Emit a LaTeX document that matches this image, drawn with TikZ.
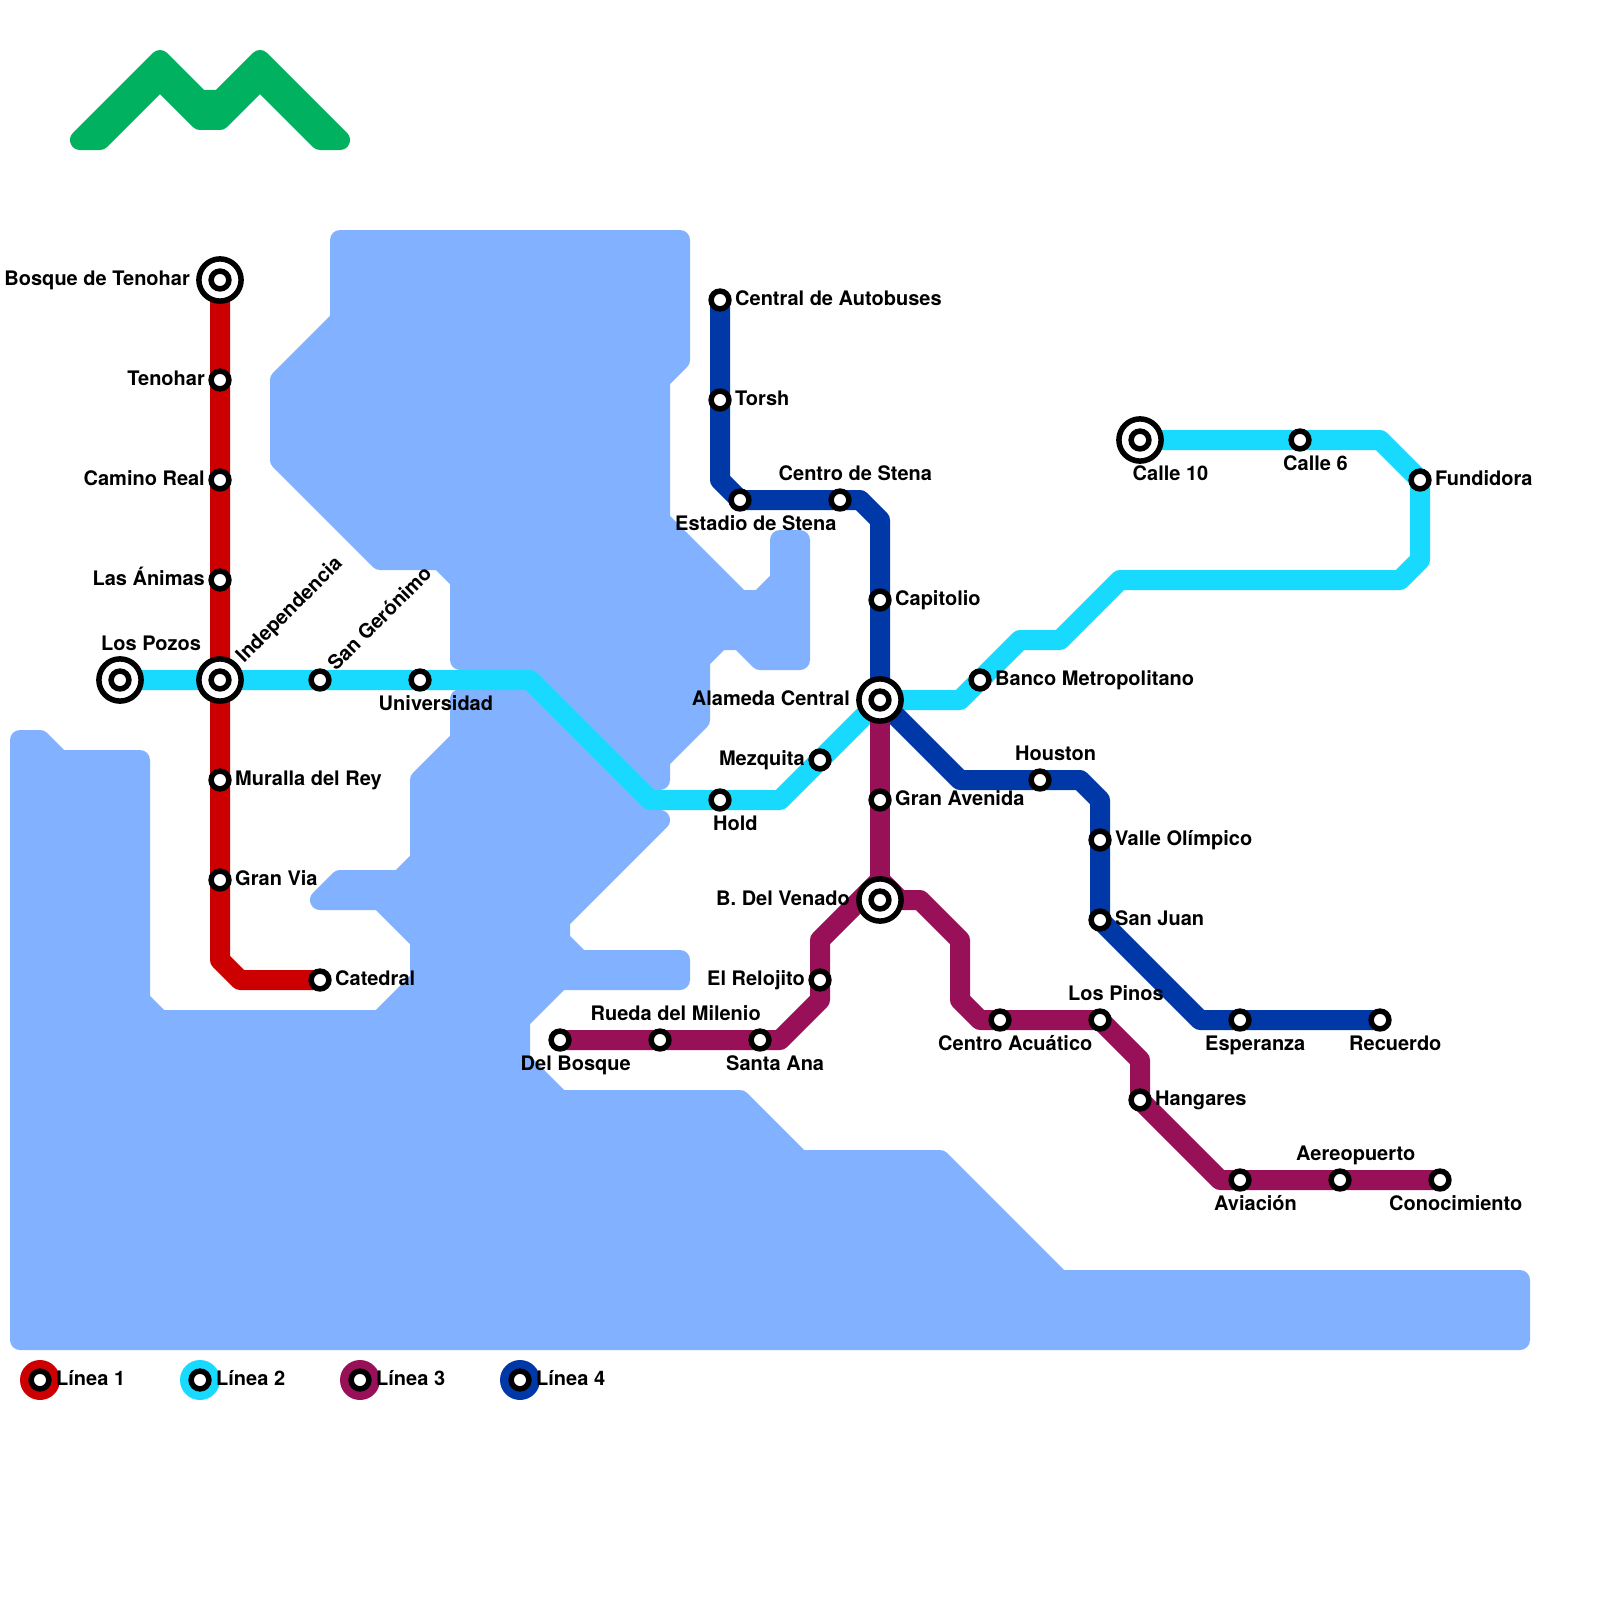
\documentclass[tikz,border=0pt]{standalone}
\usepackage{fontspec}
\setmainfont{TeX Gyre Heros}
\definecolor{water}{RGB}{130,178,255}
\definecolor{redline}{RGB}{204,0,0}
\definecolor{cyanline}{RGB}{24,218,255}
\definecolor{purpleline}{RGB}{152,17,88}
\definecolor{blueline}{RGB}{0,56,168}
\definecolor{logogreen}{RGB}{0,177,96}
\pgfdeclarelayer{sea}
\pgfdeclarelayer{tracks}
\pgfsetlayers{sea,tracks,main}
\tikzset{
  waterbody/.style={fill=water,draw=water,line width=20pt,line join=round},
  logoshape/.style={fill=logogreen,draw=logogreen,line width=20pt,line join=round},
  track/.style={line width=20pt,line join=round,line cap=butt},
  stn/.style={circle,draw=black,fill=white,line width=5.5pt,minimum size=17.8pt,inner sep=0pt},
  hub/.style={circle,draw=black,fill=white,line width=5.5pt,minimum size=42.2pt,inner sep=0pt},
  keydisc/.style={circle,minimum size=40pt,inner sep=0pt},
  lab/.style={inner sep=0pt,font=\fontsize{20}{24}\selectfont\bfseries},
  labl/.style={lab,anchor=base west},
  labr/.style={lab,anchor=base east},
  labd/.style={lab,anchor=base west,rotate=45},
}
\begin{document}
\begin{tikzpicture}[x=1pt,y=-1pt]
\useasboundingbox (0,0) rectangle (1600,1600);
\begin{pgfonlayer}{sea}
\fill[white] (0,0) rectangle (1600,1600);
\draw[waterbody] (340,240)--(680,240)--(680,360)--(660,380)--(660,520)--(740,600)--(760,600)--(780,580)--(780,540)--(800,540)--(800,660)--(760,660)--(740,640)--(720,640)--(700,660)--(700,720)--(660,760)--(660,780)--(640,780)--(520,660)--(460,660)--(460,580)--(440,560)--(380,560)--(280,460)--(280,380)--(340,320)--cycle;
\draw[waterbody] (460,699)--(530,699)--(650,820)--(660,820)--(560,920)--(560,940)--(580,960)--(680,960)--(680,980)--(560,980)--(520,1020)--(520,1060)--(560,1100)--(740,1100)--(800,1160)--(940,1160)--(1060,1280)--(1520,1280)--(1520,1340)--(20,1340)--(20,740)--(40,740)--(60,760)--(140,760)--(140,1000)--(160,1020)--(380,1020)--(420,980)--(420,940)--(380,900)--(320,900)--(340,880)--(400,880)--(420,860)--(420,780)--(460,740)--cycle;
\draw[logoshape] (80,140)--(160,60)--(200,100)--(220,100)--(260,60)--(340,140)--(320,140)--(260,80)--(220,120)--(200,120)--(160,80)--(100,140)--cycle;
\end{pgfonlayer}

% stations
\node[hub] (bosqueH) at (220,280) {}; \node[stn] (bosque) at (220,280) {};
\node[stn] (tenohar) at (220,380) {};
\node[stn] (camino) at (220,480) {};
\node[stn] (animas) at (220,580) {};
\node[hub] (indepH) at (220,680) {}; \node[stn] (indep) at (220,680) {};
\node[stn] (muralla) at (220,780) {};
\node[stn] (granvia) at (220,880) {};
\node[stn] (catedral) at (320,980) {};
\node[hub] (pozosH) at (120,680) {}; \node[stn] (pozos) at (120,680) {};
\node[stn] (sanger) at (320,680) {};
\node[stn] (univ) at (420,680) {};
\node[stn] (hold) at (720,800) {};
\node[stn] (mezquita) at (820,760) {};
\node[hub] (alamedaH) at (880,700) {}; \node[stn] (alameda) at (880,700) {};
\node[stn] (banco) at (980,680) {};
\node[stn] (fundidora) at (1420,480) {};
\node[stn] (calle6) at (1300,440) {};
\node[hub] (calle10H) at (1140,440) {}; \node[stn] (calle10) at (1140,440) {};
\node[stn] (delbosque) at (560,1040) {};
\node[stn] (rueda) at (660,1040) {};
\node[stn] (santaana) at (760,1040) {};
\node[stn] (relojito) at (820,980) {};
\node[hub] (venadoH) at (880,900) {}; \node[stn] (venado) at (880,900) {};
\node[stn] (granav) at (880,800) {};
\node[stn] (acuatico) at (1000,1020) {};
\node[stn] (pinos) at (1100,1020) {};
\node[stn] (hangares) at (1140,1100) {};
\node[stn] (aviacion) at (1240,1180) {};
\node[stn] (aereo) at (1340,1180) {};
\node[stn] (conoc) at (1440,1180) {};
\node[stn] (central) at (720,300) {};
\node[stn] (torsh) at (720,400) {};
\node[stn] (estadio) at (740,500) {};
\node[stn] (cstena) at (840,500) {};
\node[stn] (capitolio) at (880,600) {};
\node[stn] (houston) at (1040,780) {};
\node[stn] (valle) at (1100,840) {};
\node[stn] (sanjuan) at (1100,920) {};
\node[stn] (esperanza) at (1240,1020) {};
\node[stn] (recuerdo) at (1380,1020) {};

% bends
\coordinate (r1) at (220,960); \coordinate (r2) at (240,980);
\coordinate (c1) at (530,680); \coordinate (c2) at (650,800); \coordinate (c3) at (780,800);
\coordinate (c4) at (960,700); \coordinate (c5) at (1020,640); \coordinate (c6) at (1060,640);
\coordinate (c7) at (1120,580); \coordinate (c8) at (1400,580); \coordinate (c9) at (1420,560);
\coordinate (c10) at (1380,440);
\coordinate (p1) at (780,1040); \coordinate (p2) at (820,1000); \coordinate (p3) at (820,940);
\coordinate (p4) at (880,880); \coordinate (p5) at (900,900); \coordinate (p6) at (920,900);
\coordinate (p7) at (960,940); \coordinate (p8) at (960,1000); \coordinate (p9) at (980,1020);
\coordinate (p10) at (1140,1060); \coordinate (p11) at (1220,1180);
\coordinate (b1) at (720,480); \coordinate (b2) at (860,500); \coordinate (b3) at (880,520);
\coordinate (b4) at (960,780); \coordinate (b5) at (1080,780); \coordinate (b6) at (1100,800);
\coordinate (b7) at (1200,1020);

\begin{pgfonlayer}{tracks}
\draw[track,redline] (bosque.center)--(tenohar.center)--(camino.center)--(animas.center)--(indep.center)--(muralla.center)--(granvia.center)--(r1)--(r2)--(catedral.center);
\draw[track,cyanline] (pozos.center)--(indep.center)--(sanger.center)--(univ.center)--(c1)--(c2)--(hold.center)--(c3)--(mezquita.center)--(alameda.center)--(c4)--(banco.center)--(c5)--(c6)--(c7)--(c8)--(c9)--(fundidora.center)--(c10)--(calle6.center)--(calle10.center);
\draw[track,blueline] (central.center)--(torsh.center)--(b1)--(estadio.center)--(cstena.center)--(b2)--(b3)--(capitolio.center)--(alameda.center)--(b4)--(houston.center)--(b5)--(b6)--(valle.center)--(sanjuan.center)--(b7)--(esperanza.center)--(recuerdo.center);
\draw[track,purpleline] (delbosque.center)--(rueda.center)--(santaana.center)--(p1)--(p2)--(relojito.center)--(p3)--(p4)--(p5)--(p6)--(p7)--(p8)--(p9)--(acuatico.center)--(pinos.center)--(p10)--(hangares.center)--(p11)--(aviacion.center)--(aereo.center)--(conoc.center);
\draw[track,purpleline] (alameda.center)--(granav.center)--(venado.center);
\end{pgfonlayer}

% labels
\node[labr] (tBosque) at (190,285) {Bosque de Tenohar};
\node[labr] (tTenohar) at (205,385) {Tenohar};
\node[labr] (tCamino) at (205,485) {Camino Real};
\node[labr] (tAnimas) at (205,585) {Las Ánimas};
\node[labl] (tPozos) at (101,650) {Los Pozos};
\node[labd] (tIndep) at (244,664) {Independencia};
\node[labd] (tSanger) at (336,672) {San Gerónimo};
\node[labl] (tUniv) at (378.5,710) {Universidad};
\node[labl] (tMuralla) at (235,785) {Muralla del Rey};
\node[labl] (tGranvia) at (235,885) {Gran Via};
\node[labl] (tCatedral) at (335,985) {Catedral};
\node[labl] (tCentral) at (735,305) {Central de Autobuses};
\node[labl] (tTorsh) at (735,405) {Torsh};
\node[labl] (tCstena) at (778.5,480) {Centro de Stena};
\node[labl] (tEstadio) at (675,530) {Estadio de Stena};
\node[labl] (tCapitolio) at (895,605) {Capitolio};
\node[labl] (tBanco) at (995,685) {Banco Metropolitano};
\node[labr] (tAlameda) at (850,705) {Alameda Central};
\node[labr] (tMezquita) at (805,765) {Mezquita};
\node[labl] (tHold) at (713,830) {Hold};
\node[labl] (tGranav) at (895,805) {Gran Avenida};
\node[labr] (tVenado) at (850,905) {B. Del Venado};
\node[labr] (tRelojito) at (805,985) {El Relojito};
\node[labl] (tHouston) at (1015,760) {Houston};
\node[labl] (tValle) at (1115,845) {Valle Olímpico};
\node[labl] (tSanjuan) at (1115,925) {San Juan};
\node[labl] (tPinos) at (1068,1000) {Los Pinos};
\node[labl] (tAcuatico) at (938,1050) {Centro Acuático};
\node[labl] (tEsperanza) at (1205,1050) {Esperanza};
\node[labl] (tRecuerdo) at (1349,1050) {Recuerdo};
\node[labl] (tHangares) at (1155,1105) {Hangares};
\node[labl] (tAereo) at (1296,1160) {Aereopuerto};
\node[labl] (tAviacion) at (1214,1210) {Aviación};
\node[labl] (tConoc) at (1389,1210) {Conocimiento};
\node[labl] (tCalle10) at (1132.5,480) {Calle 10};
\node[labl] (tCalle6) at (1283,470) {Calle 6};
\node[labl] (tFundidora) at (1435,485) {Fundidora};
\node[labl] (tDelbosque) at (520.5,1070) {Del Bosque};
\node[labl] (tRueda) at (590.5,1020) {Rueda del Milenio};
\node[labl] (tSantaana) at (726,1070) {Santa Ana};

% legend
\node[keydisc,fill=redline] (k1) at (40,1380) {}; \node[stn] (k1s) at (40,1380) {};
\node[labl] (k1t) at (56,1385) {Línea 1};
\node[keydisc,fill=cyanline] (k2) at (200,1380) {}; \node[stn] (k2s) at (200,1380) {};
\node[labl] (k2t) at (216,1385) {Línea 2};
\node[keydisc,fill=purpleline] (k3) at (360,1380) {}; \node[stn] (k3s) at (360,1380) {};
\node[labl] (k3t) at (376,1385) {Línea 3};
\node[keydisc,fill=blueline] (k4) at (520,1380) {}; \node[stn] (k4s) at (520,1380) {};
\node[labl] (k4t) at (536,1385) {Línea 4};
\end{tikzpicture}
\end{document}
